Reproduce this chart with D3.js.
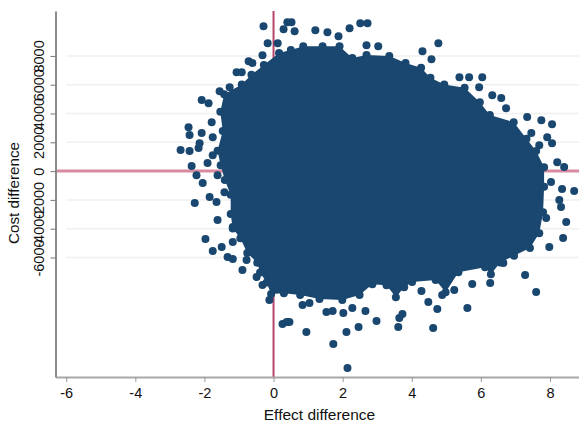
<!DOCTYPE html>
<html>
<head>
<meta charset="utf-8">
<script src="https://cdnjs.cloudflare.com/ajax/libs/d3/7.8.5/d3.min.js"></script>
<style>
  html, body { margin: 0; padding: 0; background: #fff; }
  text { font-family: "Liberation Sans", Arial, sans-serif; fill: #111; }
</style>
</head>
<body>
<div id="chart"></div>
<script>
var xTicks = [-6, -4, -2, 0, 2, 4, 6, 8];
var yTicks = [-6000, -4000, -2000, 0, 2000, 4000, 6000, 8000];

// Outline of the solid part of the cloud, where single points can't be told apart.
var cloudEffect = [0.50, 0.86, 1.42, 1.91, 2.28, 2.69, 3.35, 3.82, 4.27, 4.54, 4.94, 5.53, 5.97, 6.26, 6.95, 7.32, 7.60, 7.83, 7.83, 7.80, 7.69, 7.42, 6.96, 6.56, 6.29, 6.12, 5.35, 4.98, 4.69, 4.01, 3.78, 3.54, 3.27, 2.86, 2.49, 1.99, 1.33, 0.77, 0.30, -0.07, -0.20, -0.39, -0.47, -0.76, -0.96, -1.18, -1.24, -1.24, -1.41, -1.53, -1.62, -1.47, -1.54, -1.43, -0.92, -0.64, -0.28, 0.16];
var cloudCost = [8410, 8680, 8680, 8680, 7850, 8060, 7990, 7500, 7170, 6480, 6010, 5790, 4780, 3890, 3400, 2250, 1390, 260, -1090, -2850, -4320, -5340, -5880, -6340, -7160, -6670, -7020, -8410, -7570, -7710, -8060, -8760, -7920, -7850, -8610, -8960, -8890, -8610, -8480, -8540, -7730, -7050, -6360, -5690, -4670, -3990, -2980, -1640, -610, 410, 1420, 2780, 4120, 5340, 6020, 6700, 7370, 8200];

// Separate points around the edge of the cloud.
var edgeEffect = [-0.29, -0.17, 0.29, 0.40, 0.12, -0.32, -0.72, -0.61, -1.07, -0.92, -1.56, -1.27, -2.08, -1.88, -1.36, -1.79, -2.46, -2.43, -2.08, -1.76, -2.14, -2.17, -2.69, -2.43, -1.76, -2.37, -1.91, -2.23, -2.05, -1.62, -1.85, -1.65, -2.28, -1.42, -1.62, -1.18, -1.97, -1.76, -1.50, -1.18, -1.33, -1.18, -0.78, -0.90, -0.49, -0.32, -0.12, 0.26, 0.38, 0.46, 0.95, 1.73, 2.11, 2.46, 2.14, 2.98, 2.66, 2.02, 1.53, 1.71, 3.61, 3.64, 3.73, 4.62, 4.74, 4.48, 5.61, 5.75, 6.27, 7.28, 7.60, 6.65, 5.23, 4.88, 4.28, 7.98, 8.38, 8.47, 7.89, 0.84, 1.04, 2.28, 0.52, 0.61, 1.21, 1.56, 2.20, 2.51, 2.72, 1.88, 4.77, 2.69, 3.03, 4.31, 4.57, 5.38, 5.66, 6.04, 5.95, 6.33, 6.59, 6.73, 7.34, 7.75, 8.06, 7.46, 7.92, 8.06, 7.69, 8.21, 8.41, 8.03, 8.35, 8.70, 8.27, 8.32];
var edgeCost = [10060, 8880, 9850, 10340, 8880, 8050, 7630, 7500, 6870, 6870, 5550, 5830, 4930, 4720, 4580, 3400, 3050, 2500, 2640, 2360, 1940, 1600, 1460, 1390, 1110, 350, 560, -280, -830, -280, -1800, -2150, -2220, -1460, -3400, -3890, -4720, -5550, -5270, -4930, -5970, -6110, -6180, -6870, -7360, -7910, -8950, -10620, -10480, -10480, -11170, -12010, -11170, -10830, -13670, -10410, -9720, -9850, -9790, -9720, -10830, -10200, -9920, -10900, -9580, -9090, -9510, -7840, -7770, -7220, -8400, -6380, -8260, -8610, -8330, -5270, -4650, -3540, -3260, -9300, -9160, -9510, 10340, 9720, 9790, 9650, 9920, 10270, 10270, 9370, 8880, 8740, 8680, 8330, 7770, 6520, 6520, 6520, 5830, 5270, 5070, 4370, 3750, 3540, 3260, 2640, 2360, 1940, 1800, 620, 280, -760, -1250, -1390, -2010, -2500];

var width = 579;
var height = 425;
var margin = { top: 11, right: 0, bottom: 48, left: 55.5 };
var navy = "#1a476f";
var pointRadius = 4;

var svg = d3.select("#chart").append("svg")
    .attr("width", width)
    .attr("height", height)
    .style("display", "block");

var x = d3.scaleLinear().domain([-6.31, 8.84]).range([margin.left, width - margin.right]);
var y = d3.scaleLinear().domain([-14300, 11120]).range([height - margin.bottom, margin.top]);

// Faint gridlines
svg.append("g").selectAll("line")
    .data(yTicks)
    .enter().append("line")
    .attr("x1", x(-6))
    .attr("x2", width)
    .attr("y1", function(d) { return y(d); })
    .attr("y2", function(d) { return y(d); })
    .attr("stroke", "#f0f0f0")
    .attr("stroke-width", 1.5);

// Reference lines at zero
svg.append("line")
    .attr("x1", margin.left).attr("x2", width)
    .attr("y1", y(0)).attr("y2", y(0))
    .attr("stroke", "#d88ba0")
    .attr("stroke-width", 3);
svg.append("line")
    .attr("x1", x(0)).attr("x2", x(0))
    .attr("y1", margin.top).attr("y2", height - margin.bottom)
    .attr("stroke", "#b5456b")
    .attr("stroke-width", 2);

// Axes, tick labels use a plain hyphen
var xAxis = svg.append("g")
    .attr("transform", "translate(0," + (height - margin.bottom) + ")")
    .call(d3.axisBottom(x).tickValues(xTicks).tickFormat(String).tickSize(5).tickSizeOuter(0));
var yAxis = svg.append("g")
    .attr("transform", "translate(" + margin.left + ",0)")
    .call(d3.axisLeft(y).tickValues(yTicks).tickFormat(String).tickSize(5).tickSizeOuter(0));

xAxis.select(".domain").attr("stroke", "#a8a8a8").attr("stroke-width", 2);
yAxis.select(".domain").attr("stroke", "#8c8c8c").attr("stroke-width", 2);
xAxis.selectAll(".tick line").attr("stroke", "#999");
yAxis.selectAll(".tick line").attr("stroke", "#777");
xAxis.selectAll("text").attr("font-size", 14.5).attr("font-family", null).attr("dy", "0.6em").attr("y", 12);
yAxis.selectAll("text")
    .attr("font-size", 14.5)
    .attr("font-family", null)
    .attr("text-anchor", "middle")
    .attr("x", 0)
    .attr("dy", 0)
    .attr("y", 0)
    .attr("transform", "translate(-11.5,0) rotate(-90)");

// Cloud
var cloudLine = d3.line()
    .x(function(d, i) { return x(cloudEffect[i]); })
    .y(function(d, i) { return y(cloudCost[i]); })
    .curve(d3.curveLinearClosed);

svg.append("path")
    .datum(cloudEffect)
    .attr("d", cloudLine)
    .attr("fill", navy);

svg.append("g").selectAll("circle")
    .data(cloudEffect)
    .enter().append("circle")
    .attr("cx", function(d) { return x(d); })
    .attr("cy", function(d, i) { return y(cloudCost[i]); })
    .attr("r", pointRadius)
    .attr("fill", navy);

svg.append("g").selectAll("circle")
    .data(edgeEffect)
    .enter().append("circle")
    .attr("cx", function(d) { return x(d); })
    .attr("cy", function(d, i) { return y(edgeCost[i]); })
    .attr("r", pointRadius)
    .attr("fill", navy);

// Axis titles
svg.append("text")
    .attr("x", 319.5)
    .attr("y", 420)
    .attr("text-anchor", "middle")
    .attr("font-size", 15.5)
    .text("Effect difference");
svg.append("text")
    .attr("transform", "translate(19,193) rotate(-90)")
    .attr("text-anchor", "middle")
    .attr("font-size", 15.2)
    .text("Cost difference");
</script>
</body>
</html>
